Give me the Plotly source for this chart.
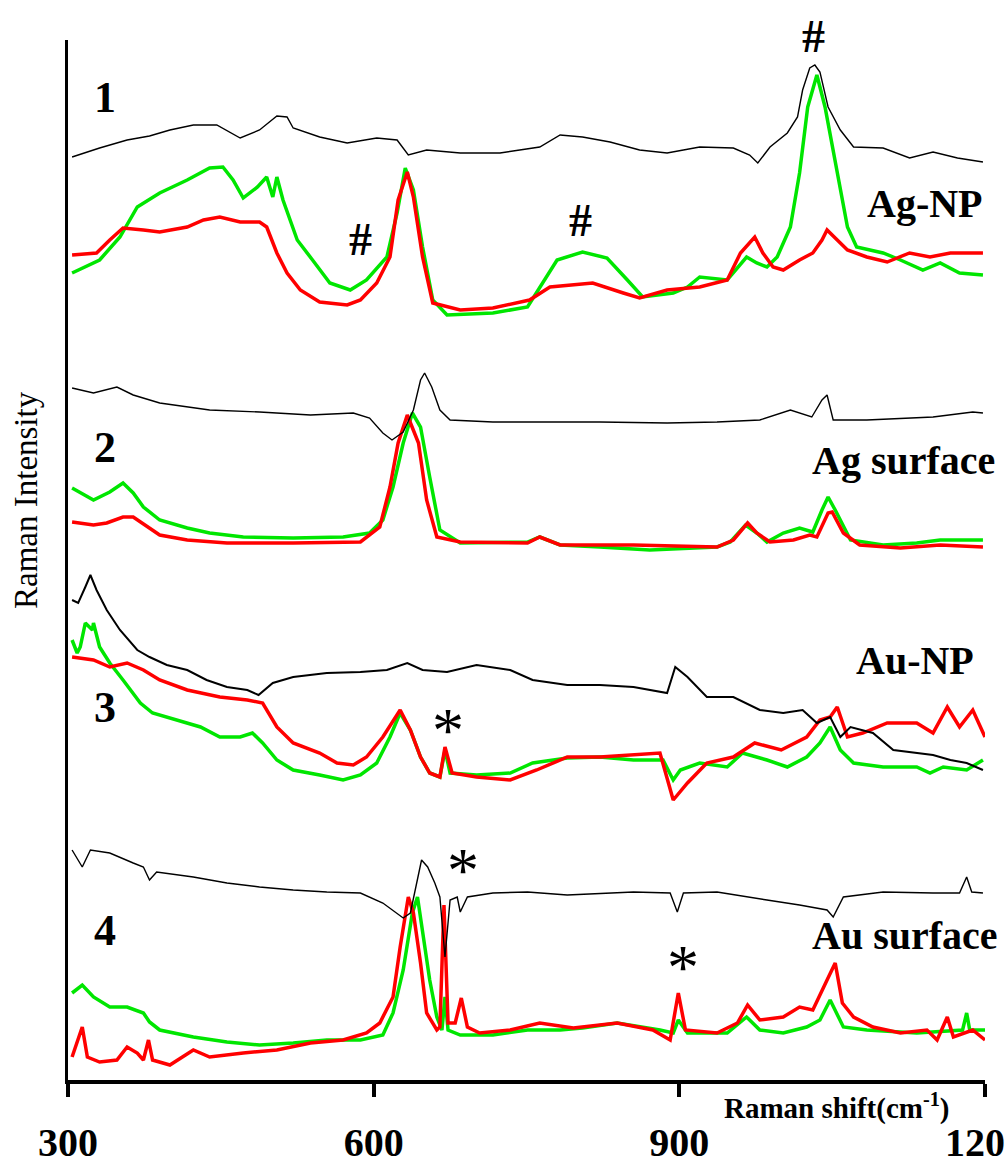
import plotly.graph_objects as go

# ---------------- data (Raman shift in cm-1, intensity in arbitrary units, stacked) ----------------
# Panel 1 (Ag-NP)
p1_black_x = [304,331,358,380,400,423,446,469,488,505,515,521,547,574,603,623,634,652,685,724,763,783,805,832,861,888,920,953,969,977,989,1006,1016,1021,1028,1033,1038,1046,1058,1071,1100,1126,1149,1173,1198]
p1_black_y = [923,932,940,944,950,955,955,942,950,964,963,952,943,937,942,940,925,930,927,927,933,945,943,938,930,927,933,932,925,917,933,947,963,990,1012,1015,1008,973,950,933,932,922,928,922,918]
p1_green_x = [304,331,351,368,390,417,439,452,462,472,486,495,501,505,511,525,540,557,577,593,613,623,631,639,648,658,672,717,751,763,780,805,829,849,864,894,908,920,947,966,976,986,996,1009,1018,1026,1035,1043,1055,1065,1074,1100,1117,1139,1156,1175,1198]
p1_green_y = [807,820,843,873,887,900,912,913,900,882,893,903,883,903,880,840,820,797,790,800,823,867,912,890,833,780,765,767,773,793,820,828,822,800,783,787,793,803,800,823,817,813,823,853,907,973,1005,973,907,853,833,827,820,810,817,807,805]
p1_red_x = [304,328,341,354,374,390,417,433,449,469,488,495,505,515,528,547,574,587,603,616,624,633,639,648,658,685,717,753,773,815,845,861,888,920,947,960,974,982,992,1002,1018,1031,1040,1045,1055,1065,1084,1104,1126,1146,1166,1198]
p1_red_y = [825,827,840,852,850,848,853,860,863,858,858,853,827,807,790,778,775,780,797,823,880,908,883,823,777,770,772,780,793,797,787,782,790,793,800,827,843,827,813,810,820,827,840,850,840,830,823,818,827,823,827,827]

# Panel 2 (Ag surface)
p2_black_x = [304,325,348,364,390,439,488,538,580,596,609,618,629,639,646,650,657,665,675,717,783,822,888,937,979,1009,1030,1040,1045,1051,1084,1149,1188,1198]
p2_black_y = [692,687,693,685,677,670,668,665,667,662,647,640,648,670,700,707,693,670,660,658,658,658,657,658,660,670,663,680,685,660,660,663,668,667]
p2_green_x = [304,325,341,354,364,374,390,417,439,472,521,570,596,609,619,629,638,646,655,665,685,751,763,783,822,871,937,950,965,976,986,1002,1018,1031,1040,1046,1053,1068,1100,1133,1156,1198]
p2_green_y = [592,580,588,597,587,573,560,552,547,543,542,543,547,560,593,637,667,653,603,550,537,538,543,535,533,530,533,538,555,547,538,547,552,548,570,583,570,540,535,537,540,540]
p2_red_x = [304,325,338,354,364,378,390,417,456,521,587,606,616,624,633,644,652,662,685,751,763,783,855,937,953,967,976,989,1012,1028,1035,1046,1050,1061,1077,1117,1156,1198]
p2_red_y = [558,555,557,563,563,553,545,540,537,537,538,553,593,637,665,637,580,543,538,537,543,535,535,533,540,557,547,538,540,545,543,567,568,547,535,532,535,533]

# Panel 3 (Au-NP)
p3_black_x = [304,310,317,322,328,338,351,368,380,397,417,436,456,476,487,501,521,554,587,613,633,648,672,701,734,756,790,822,855,888,896,908,927,953,979,1002,1021,1035,1048,1058,1068,1090,1110,1133,1149,1166,1182,1198]
p3_black_y = [480,477,493,505,490,470,450,430,423,415,410,400,393,390,385,397,403,407,408,410,417,410,408,415,410,400,395,395,393,387,413,403,383,383,370,367,370,357,363,343,353,347,330,327,325,320,317,310]
p3_green_x = [304,309,312,317,324,325,331,341,354,371,383,407,430,449,469,481,491,505,521,547,570,587,603,616,626,636,646,655,665,670,675,701,734,756,790,822,855,884,894,901,920,947,962,986,1006,1025,1038,1048,1058,1071,1100,1133,1146,1159,1182,1198]
p3_green_y = [440,427,433,457,450,457,433,417,400,377,367,360,353,343,343,347,337,320,310,305,300,305,317,343,367,350,323,307,303,330,307,305,307,317,322,323,320,320,300,310,317,313,327,320,313,323,337,353,330,317,313,313,307,313,310,320]
p3_red_x = [304,325,341,358,374,390,417,449,476,491,505,521,547,564,580,593,609,626,636,646,655,665,670,677,701,734,760,790,822,881,894,908,927,953,974,1000,1025,1038,1048,1055,1065,1080,1104,1133,1149,1163,1175,1188,1200]
p3_red_y = [423,420,413,417,410,400,390,383,380,377,353,337,327,317,315,323,343,370,350,323,307,303,333,307,303,300,310,323,323,327,280,297,317,323,337,330,343,360,363,373,343,347,357,357,347,373,353,370,343]

# Panel 4 (Au surface)
p4_black_x = [304,314,322,341,364,374,380,387,423,456,488,521,554,587,609,629,636,641,647,653,660,665,670,675,682,685,692,717,751,790,855,891,898,904,937,986,1018,1045,1051,1061,1100,1149,1175,1182,1187,1198]
p4_black_y = [230,213,230,227,217,213,200,208,203,197,193,190,188,187,177,162,167,190,220,213,197,183,123,180,183,168,183,187,188,185,188,187,168,187,188,180,175,170,163,183,188,187,187,203,188,187]
p4_green_x = [304,314,325,341,358,374,380,390,423,456,488,521,554,587,609,619,629,638,643,648,655,662,667,670,673,685,717,751,783,805,839,881,894,899,908,947,966,979,1002,1025,1038,1048,1061,1084,1133,1178,1182,1185,1200]
p4_green_y = [87,95,83,73,73,67,58,50,43,38,35,37,40,40,45,67,110,167,183,150,100,63,50,83,50,45,45,50,50,52,57,50,47,60,47,47,63,50,47,53,60,80,53,50,47,50,67,50,50]
p4_red_x = [304,314,319,331,348,358,368,374,379,383,400,423,439,472,505,538,570,593,606,619,626,634,639,646,652,662,665,669,673,680,686,692,704,734,763,796,839,874,891,899,906,937,957,967,979,1002,1018,1031,1045,1053,1060,1071,1090,1117,1143,1153,1163,1169,1188,1200]
p4_red_y = [23,53,23,18,20,33,27,20,40,20,15,30,23,27,30,37,40,47,57,83,133,183,167,117,67,50,53,175,57,57,82,53,47,50,57,52,57,50,40,87,50,47,57,75,60,63,73,70,100,117,77,63,53,47,50,40,63,43,50,40]

tick_vals = [300, 600, 900, 1200]
tick_text = ["300", "600", "900", "1200"]
panel_numbers = ["1", "2", "3", "4"]
panel_names = ["Ag-NP", "Ag surface", "Au-NP", "Au surface"]

# ---------------- styling ----------------
GREEN = "#00e600"
RED = "#ff0000"
BLACK = "#000000"
SERIF = "Liberation Serif, Times New Roman, serif"

fig = go.Figure()

panels = [
    (p1_green_x, p1_green_y, p1_red_x, p1_red_y, p1_black_x, p1_black_y, 1.4),
    (p2_green_x, p2_green_y, p2_red_x, p2_red_y, p2_black_x, p2_black_y, 1.4),
    (p3_green_x, p3_green_y, p3_red_x, p3_red_y, p3_black_x, p3_black_y, 2.0),
    (p4_green_x, p4_green_y, p4_red_x, p4_red_y, p4_black_x, p4_black_y, 1.4),
]
for gx, gy, rx, ry, kx, ky, kw in panels:
    fig.add_trace(go.Scatter(x=gx, y=gy, mode="lines", line=dict(color=GREEN, width=3.5), showlegend=False))
    fig.add_trace(go.Scatter(x=rx, y=ry, mode="lines", line=dict(color=RED, width=3.5), showlegend=False))
    fig.add_trace(go.Scatter(x=kx, y=ky, mode="lines", line=dict(color=BLACK, width=kw), showlegend=False))

# panel numbers
num_pos = [(336, 983), (336, 633), (336, 373), (336, 150)]
for t, (x, y) in zip(panel_numbers, num_pos):
    fig.add_annotation(x=x, y=y, xref="x", yref="y", text="<b>%s</b>" % t, showarrow=False,
                       xanchor="center", yanchor="middle",
                       font=dict(family=SERIF, size=44, color=BLACK))

# panel names
name_pos = [(1141, 877), (1120, 620), (1131, 420), (1121, 145)]
for t, (x, y) in zip(panel_names, name_pos):
    fig.add_annotation(x=x, y=y, xref="x", yref="y", text="<b>%s</b>" % t, showarrow=False,
                       xanchor="center", yanchor="middle",
                       font=dict(family=SERIF, size=40, color=BLACK))

# '#' markers (paper coordinates so the top one above the frame is still drawn)
for px_, py_ in [(360, 240), (580, 220), (813, 36)]:
    fig.add_annotation(x=(px_ - 68) / 917, y=(1080 - py_) / 1040, xref="paper", yref="paper",
                       text="<b>#</b>", showarrow=False, xanchor="center", yanchor="middle",
                       font=dict(family=SERIF, size=46, color=BLACK))
# '*' markers
for x, y in [(673, 350), (688, 210), (904, 113)]:
    fig.add_annotation(x=x, y=y, xref="x", yref="y", text="*", showarrow=False,
                       xanchor="center", yanchor="middle",
                       font=dict(family=SERIF, size=64, color=BLACK))

# axis titles
fig.add_annotation(x=(837 - 68) / 917, y=(1080 - 1106) / 1040, xref="paper", yref="paper",
                   text="<b>Raman shift(cm<sup>-1</sup>)</b>", showarrow=False,
                   xanchor="center", yanchor="middle",
                   font=dict(family=SERIF, size=29, color=BLACK))
fig.add_annotation(x=(26 - 68) / 917, y=(1080 - 500) / 1040, xref="paper", yref="paper",
                   text="Raman Intensity", textangle=-90, showarrow=False,
                   xanchor="center", yanchor="middle",
                   font=dict(family=SERIF, size=33, color=BLACK))

fig.update_layout(
    width=1005, height=1164,
    margin=dict(l=68, r=20, t=40, b=84, autoexpand=False),
    paper_bgcolor="white", plot_bgcolor="white",
    showlegend=False,
)
fig.update_xaxes(
    range=[300, 1200], showgrid=False, zeroline=False, automargin=False,
    showline=True, linewidth=4, linecolor=BLACK,
    ticks="outside", ticklen=13, tickwidth=4, tickcolor=BLACK,
    tickvals=tick_vals, ticktext=["<b>%s</b>" % t for t in tick_text],
    tickfont=dict(family=SERIF, size=40, color=BLACK),
    ticklabelstandoff=11, ticklabeloverflow="allow",
)
fig.update_yaxes(
    range=[0, 1040], showgrid=False, zeroline=False, automargin=False,
    showline=True, linewidth=3, linecolor=BLACK,
    showticklabels=False, ticks="",
)

fig.write_html("out.html")
